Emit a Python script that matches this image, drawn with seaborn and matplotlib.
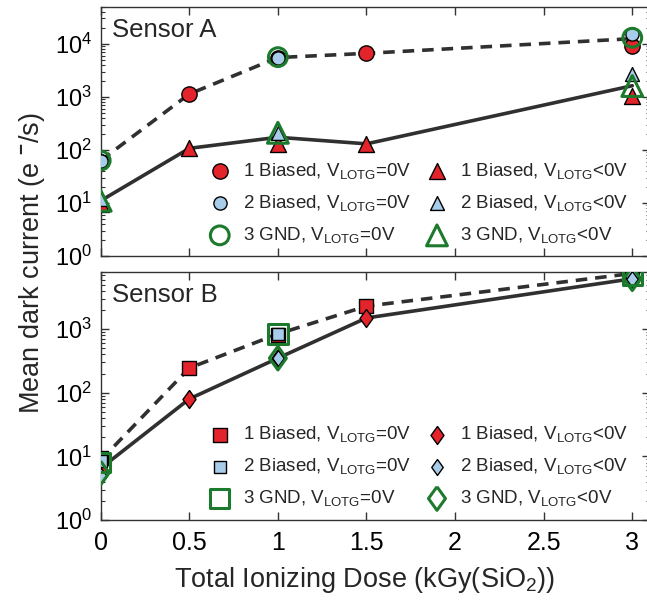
import numpy as np
import pandas as pd
import matplotlib
matplotlib.use("Agg")
import matplotlib.pyplot as plt
import seaborn as sns
from matplotlib.ticker import LogLocator, LogFormatterMathtext, NullFormatter

# ---------------- data ----------------
dose_all = [0, 0.5, 1, 1.5, 3]
dose_sub = [0, 1, 3]

# Sensor A
A_b1_v0 = [60, 1130, 5400, 6600, 9100]
A_b2_v0 = [63, 5500, 15000]
A_gnd_v0 = [63, 5600, 13000]
A_mean_v0 = [63, 1130, 5500, 6600, 12500]
A_b1_neg = [9.4, 107, 130, 130, 1050]
A_b2_neg = [12, 205, 2700]
A_gnd_neg = [11, 210, 1600]
A_mean_neg = [11, 107, 173, 130, 1620]

# Sensor B
B_b1_v0 = [9.3, 245, 820, 2300, 7200]
B_b2_v0 = [8.5, 840, 7000]
B_gnd_v0 = [8.0, 840, 7000]
B_mean_v0 = [8.7, 245, 840, 2300, 7500]
B_b1_neg = [6.1, 80, 350, 1500, 6200]
B_b2_neg = [5.0, 350, 6200]
B_gnd_neg = [5.5, 350, 6200]
B_mean_neg = [6.5, 80, 350, 1500, 6200]

labels_v0 = ["1 Biased, V$_{\\mathrm{LOTG}}$=0V",
             "2 Biased, V$_{\\mathrm{LOTG}}$=0V",
             "3 GND, V$_{\\mathrm{LOTG}}$=0V"]
labels_neg = ["1 Biased, V$_{\\mathrm{LOTG}}$<0V",
              "2 Biased, V$_{\\mathrm{LOTG}}$<0V",
              "3 GND, V$_{\\mathrm{LOTG}}$<0V"]
xticks = [0, 0.5, 1, 1.5, 2, 2.5, 3]
xtick_labels = ["0", "0.5", "1", "1.5", "2", "2.5", "3"]

# ---------------- style ----------------
sns.set_style("ticks")
plt.rcParams["font.family"] = ["Liberation Sans", "DejaVu Sans"]
plt.rcParams["mathtext.fontset"] = "custom"
plt.rcParams["mathtext.rm"] = "Liberation Sans"
plt.rcParams["mathtext.it"] = "Liberation Sans:italic"
plt.rcParams["mathtext.bf"] = "Liberation Sans:bold"

RED = "#e3242b"
BLUE = "#a8cdea"
GREEN = "#1c7a2c"
LINE = "#303030"

fig = plt.figure(figsize=(6.47, 6.03), dpi=100)
W, H = 647, 603
left, right = 100.7 / W, 650 / W
axA = fig.add_axes([left, 1 - 256 / H, right - left, (256 - 6.7) / H])
axB = fig.add_axes([left, 1 - 520 / H, right - left, (520 - 271.7) / H])

diamond = [(0, 1), (0.72, 0), (0, -1), (-0.72, 0), (0, 1)]


def panel(ax, mean_v0, mean_neg, b1_v0, b2_v0, gnd_v0, b1_neg, b2_neg, gnd_neg,
          m0, mneg, sizes0, sizesneg, ylim, name, leg_y):
    sns.lineplot(x=dose_all, y=mean_v0, ax=ax, color=LINE, lw=2.6,
                 linestyle=(0, (3.2, 2.2)), legend=False, zorder=1)
    sns.lineplot(x=dose_all, y=mean_neg, ax=ax, color=LINE, lw=2.6,
                 linestyle="-", legend=False, zorder=1)
    # V=0 series
    sns.scatterplot(x=dose_all, y=b1_v0, ax=ax, marker=m0, s=sizes0[0] ** 2,
                    color=RED, edgecolor="black", linewidth=1.0,
                    label=labels_v0[0], zorder=3)
    sns.scatterplot(x=dose_sub, y=b2_v0, ax=ax, marker=m0, s=sizes0[1] ** 2,
                    color=BLUE, edgecolor="black", linewidth=1.0,
                    label=labels_v0[1], zorder=4)
    sns.scatterplot(x=dose_sub, y=gnd_v0, ax=ax, marker=m0, s=sizes0[2] ** 2,
                    color="none", edgecolor=GREEN, linewidth=2.2,
                    label=labels_v0[2], zorder=5)
    # V<0 series
    sns.scatterplot(x=dose_all, y=b1_neg, ax=ax, marker=mneg, s=sizesneg[0] ** 2,
                    color=RED, edgecolor="black", linewidth=1.0,
                    label=labels_neg[0], zorder=3)
    sns.scatterplot(x=dose_sub, y=b2_neg, ax=ax, marker=mneg, s=sizesneg[1] ** 2,
                    color=BLUE, edgecolor="black", linewidth=1.0,
                    label=labels_neg[1], zorder=4)
    sns.scatterplot(x=dose_sub, y=gnd_neg, ax=ax, marker=mneg, s=sizesneg[2] ** 2,
                    color="none", edgecolor=GREEN, linewidth=2.2,
                    label=labels_neg[2], zorder=5)

    ax.set_yscale("log")
    ax.set_ylim(*ylim)
    ax.set_xlim(0, 3.1)
    ax.set_xticks(xticks)
    ax.yaxis.set_major_locator(LogLocator(base=10, numticks=10))
    ax.yaxis.set_major_formatter(LogFormatterMathtext())
    ax.yaxis.set_minor_locator(LogLocator(base=10, subs=np.arange(2, 10), numticks=50))
    ax.yaxis.set_minor_formatter(NullFormatter())
    ax.tick_params(which="both", direction="in", top=True, right=True,
                   colors="#333333", labelcolor="black")
    ax.tick_params(which="major", length=6, width=1)
    ax.tick_params(axis="y", which="major", labelsize=17, pad=6)
    ax.tick_params(axis="x", which="major", labelsize=18, pad=8)
    ax.tick_params(which="minor", length=3, width=0.8)
    for sp in ax.spines.values():
        sp.set_color("#333333")
        sp.set_linewidth(1.0)
    ax.set_xlabel("")
    ax.set_ylabel("")
    ax.text(0.02, 0.955, name, transform=ax.transAxes, fontsize=18.5,
            ha="left", va="top")
    ax.legend(loc="upper left", bbox_to_anchor=(0.186, leg_y), ncol=2,
              frameon=False, fontsize=13.5, handlelength=1.0,
              handletextpad=0.72, columnspacing=0.9, labelspacing=0.64,
              borderaxespad=0.0, scatterpoints=1)


panel(axA, A_mean_v0, A_mean_neg, A_b1_v0, A_b2_v0, A_gnd_v0,
      A_b1_neg, A_b2_neg, A_gnd_neg, "o", "^",
      (11, 9.5, 13.5), (11.5, 10, 15), (1, 5e4), "Sensor A", 0.41)
panel(axB, B_mean_v0, B_mean_neg, B_b1_v0, B_b2_v0, B_gnd_v0,
      B_b1_neg, B_b2_neg, B_gnd_neg, "s", diamond,
      (10, 8.5, 14), (13, 11.5, 17), (1, 8e3), "Sensor B", 0.415)

axA.set_xticklabels([])
axB.set_xticklabels(xtick_labels)

fig.text(32 / W, 1 - 263 / H, "Mean dark current (e $^{\\mathbf{-}}$/s)",
         rotation=90, ha="center", va="center", fontsize=19.5)
fig.text(365 / W, 1 - 580 / H, "Total Ionizing Dose (kGy(SiO$_2$))",
         ha="center", va="center", fontsize=19.5)

fig.savefig("out.png", dpi=100)
